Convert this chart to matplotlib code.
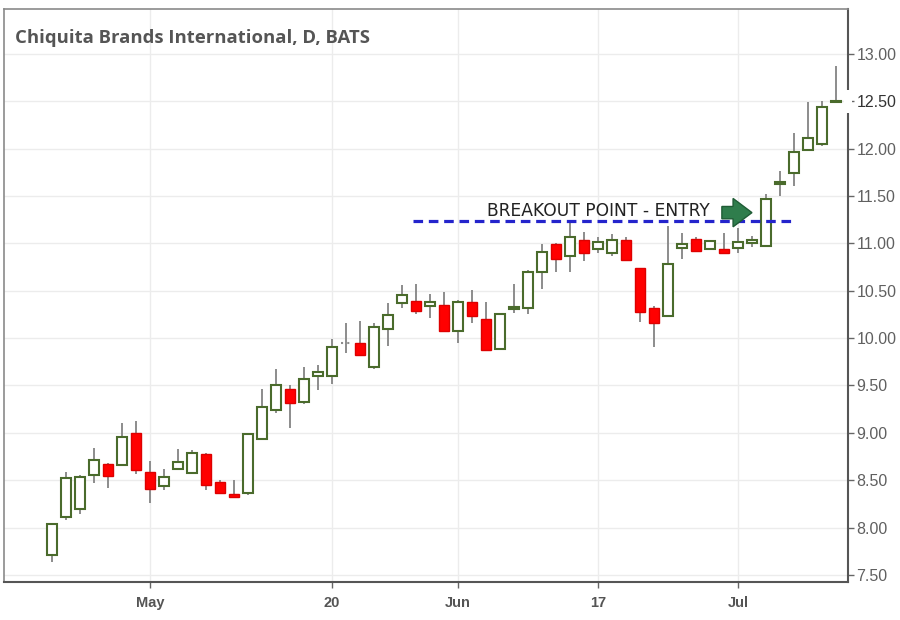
import matplotlib
matplotlib.use("Agg")
import matplotlib.pyplot as plt
import numpy as np
from matplotlib import font_manager
from matplotlib.patches import FancyArrow, Rectangle

# trading days, Apr 22 - Jul 11 2013
dates = ["04-22", "04-23", "04-24", "04-25", "04-26", "04-29", "04-30",
         "05-01", "05-02", "05-03", "05-06", "05-07", "05-08", "05-09", "05-10",
         "05-13", "05-14", "05-15", "05-16", "05-17", "05-20", "05-21", "05-22",
         "05-23", "05-24", "05-28", "05-29", "05-30", "05-31",
         "06-03", "06-04", "06-05", "06-06", "06-07", "06-10", "06-11", "06-12",
         "06-13", "06-14", "06-17", "06-18", "06-19", "06-20", "06-21",
         "06-24", "06-25", "06-26", "06-27", "06-28",
         "07-01", "07-02", "07-03", "07-05", "07-08", "07-09", "07-10", "07-11"]

opens = [7.71, 8.11, 8.20, 8.56, 8.67, 8.66, 9.00, 8.59, 8.44, 8.62,
         8.58, 8.78, 8.48, 8.35, 8.36, 8.93, 9.24, 9.46, 9.33, 9.60,
         9.60, 9.95, 9.95, 9.69, 10.10, 10.37, 10.39, 10.34, 10.35, 10.07,
         10.38, 10.20, 9.88, 10.31, 10.32, 10.70, 10.99, 10.87, 11.04, 10.94,
         10.90, 11.04, 10.74, 10.32, 10.23, 10.95, 11.05, 10.94, 10.94, 10.95,
         11.00, 10.97, 11.63, 11.74, 11.99, 12.05, 12.49]
highs = [8.05, 8.59, 8.55, 8.84, 8.68, 9.10, 9.12, 8.70, 8.62, 8.83,
         8.82, 8.79, 8.50, 8.50, 9.00, 9.46, 9.67, 9.50, 9.69, 9.72,
         9.99, 10.16, 10.18, 10.16, 10.37, 10.56, 10.57, 10.47, 10.49, 10.40,
         10.51, 10.38, 10.27, 10.57, 10.72, 10.99, 11.00, 11.25, 11.12, 11.07,
         11.10, 11.07, 10.74, 10.34, 11.18, 11.11, 11.07, 11.04, 11.11, 11.16,
         11.08, 11.52, 11.76, 12.17, 12.49, 12.50, 12.87]
lows = [7.64, 8.08, 8.14, 8.47, 8.42, 8.65, 8.57, 8.26, 8.40, 8.61,
        8.57, 8.40, 8.35, 8.31, 8.34, 8.92, 9.21, 9.05, 9.30, 9.45,
        9.52, 9.84, 9.82, 9.67, 9.92, 10.32, 10.25, 10.21, 10.07, 9.95,
        10.16, 9.86, 9.87, 10.27, 10.25, 10.52, 10.70, 10.70, 10.81, 10.90,
        10.87, 10.82, 10.17, 9.91, 10.22, 10.84, 10.91, 10.93, 10.89, 10.90,
        10.96, 10.96, 11.50, 11.61, 11.99, 12.03, 12.49]
closes = [8.04, 8.52, 8.53, 8.71, 8.54, 8.96, 8.61, 8.41, 8.53, 8.69,
          8.79, 8.45, 8.36, 8.32, 8.99, 9.27, 9.50, 9.31, 9.57, 9.64,
          9.91, 9.95, 9.82, 10.12, 10.24, 10.46, 10.29, 10.38, 10.07, 10.38,
          10.23, 9.87, 10.25, 10.33, 10.70, 10.91, 10.84, 11.07, 10.90, 11.01,
          11.04, 10.82, 10.28, 10.16, 10.78, 10.99, 10.92, 11.03, 10.90, 11.01,
          11.04, 11.47, 11.65, 11.97, 12.11, 12.44, 12.50]

tick_dates = ["05-01", "05-20", "06-03", "06-17", "07-01"]
tick_labels = ["May", "20", "Jun", "17", "Jul"]

title = "Chiquita Brands International, D, BATS"
breakout_level = 11.235
breakout_from, breakout_to = "05-29", "07-08"
note = "BREAKOUT POINT - ENTRY"

names = {f.name for f in font_manager.fontManager.ttflist}
xfont = "Liberation Sans Narrow" if "Liberation Sans Narrow" in names else "Liberation Sans"

fig = plt.figure(figsize=(9, 6.2), dpi=100)
ax = fig.add_axes([4/900, 1 - 582/620, 844/900, 573/620])

x = np.arange(len(dates))
o = np.array(opens); h = np.array(highs); l = np.array(lows); c = np.array(closes)
up = c > o
down = c < o
flat = c == o

ax.vlines(x, l, h, color="#8c8c8c", lw=1.4, zorder=2)
w = 0.66
ax.bar(x[up], (c - o)[up], bottom=o[up], width=w, facecolor="white",
       edgecolor="#4a6b2c", lw=1.5, zorder=3)
ax.bar(x[down], (o - c)[down], bottom=c[down], width=w, facecolor="#ff0000",
       edgecolor="#dd0000", lw=1.0, zorder=3)
for xi, yi in zip(x[flat], o[flat]):
    ax.hlines(yi, xi - w/2, xi + w/2, color="#8c8c8c", lw=1.5, ls=(0, (1, 2)), zorder=3)

# breakout line and note
x0 = dates.index(breakout_from) - 0.2
x1 = dates.index(breakout_to)
ax.hlines(breakout_level, x0, x1, color="#2424cc", lw=2.3, linestyles=(0, (3, 1.8)), zorder=4)
ax.text(31.07, 11.345, note, fontsize=12.3, color="#222222", ha="left", va="center", zorder=5)
ax.add_patch(FancyArrow(47.85, 11.325, 2.15, 0, width=0.13, head_width=0.30,
                        head_length=1.35, length_includes_head=True,
                        facecolor="#2f7d4c", edgecolor="#1f5c35", lw=1, zorder=5))

ax.set_xlim(-3.43, 56.86)
ax.set_ylim(7.425, 13.475)

ax.yaxis.tick_right()
ax.set_yticks(np.arange(7.5, 13.01, 0.5))
ax.set_yticklabels(["%.2f" % v for v in np.arange(7.5, 13.01, 0.5)])
ax.set_xticks([dates.index(d) for d in tick_dates])
ax.set_xticklabels(tick_labels)

ax.tick_params(axis="y", direction="out", length=4, width=1, color="#666666",
               labelcolor="#606060", labelsize=11.5, pad=2)
ax.tick_params(axis="x", direction="out", length=4, width=1, color="#666666",
               labelcolor="#555555", pad=6)
for t in ax.get_yticklabels():
    t.set_fontfamily("Liberation Sans")
for t in ax.get_xticklabels():
    t.set_fontfamily(xfont)
    t.set_fontsize(10.5)
    t.set_fontweight("bold")

ax.grid(color="#ececec", lw=1)
ax.set_axisbelow(True)

for s in ["left", "top"]:
    ax.spines[s].set_color("#8a8a8a")
    ax.spines[s].set_linewidth(1.2)
for s in ["right", "bottom"]:
    ax.spines[s].set_color("#555555")
    ax.spines[s].set_linewidth(1.5)

# last price marker: break in the price axis
ax.add_patch(Rectangle((0.995, 12.38), 0.01, 0.24, transform=ax.get_yaxis_transform(),
                       facecolor="white", edgecolor="none", clip_on=False, zorder=6))
for t in ax.get_yticklabels():
    if t.get_text() == "12.50":
        t.set_color("#333333")

fig.text(15/900, 1 - 38/620, title, fontsize=13.3, fontweight="bold", family="Open Sans",
         color="#555555", va="center", ha="left")

fig.savefig("out.png", dpi=100, facecolor="white")
